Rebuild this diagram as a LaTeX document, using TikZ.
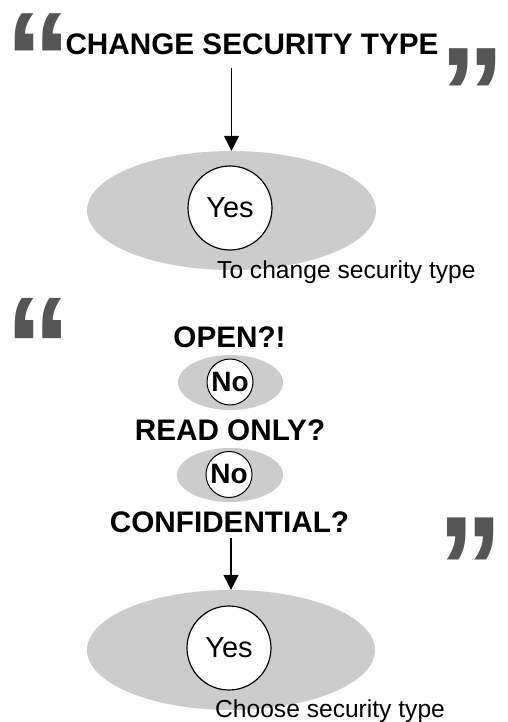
\documentclass[tikz,border=0pt]{standalone}
\usepackage{fontspec}
\setmainfont{Liberation Sans}
\usetikzlibrary{shapes.geometric,arrows.meta}
\definecolor{ellgray}{HTML}{CCCCCC}
\definecolor{qgray}{HTML}{555555}
\tikzset{
  ell/.style={ellipse, fill=ellgray, inner sep=0pt},
  ans/.style={circle, draw=black, fill=white, line width=1.2pt, inner sep=0pt},
  qmark/.style={inner sep=0pt, text=qgray, anchor=north west, font=\fontsize{132}{132}\selectfont\bfseries},
  head/.style={inner sep=0pt, font=\fontsize{29.7}{32}\selectfont\bfseries},
  ques/.style={inner sep=0pt, font=\fontsize{29.7}{32}\selectfont\bfseries},
  note/.style={inner sep=0pt, font=\fontsize{24.6}{26}\selectfont},
  arr/.style={line width=1.3pt, -{Triangle[width=15pt,length=15pt]}}
}
\begin{document}
\begin{tikzpicture}[x=1pt,y=-1pt]
\useasboundingbox (0,0) rectangle (507,722);
% quotation marks
\node[qmark] (q1) at (5.5,13) {\scalebox{1.0}[1.0]{“}};
\node[qmark] (q2) at (439.5,48) {\scalebox{1.0}[1.0]{”}};
\node[qmark] (q3) at (5.5,298) {\scalebox{1.0}[1.08]{“}};
\node[qmark] (q4) at (437.5,518) {\scalebox{1.0}[1.13]{”}};
% top part
\node[head, anchor=base] (title) at (252,55) {CHANGE SECURITY TYPE};
\node[ell, minimum width=289pt, minimum height=119pt] (e1) at (231.5,210.5) {};
\node[ans, minimum size=84pt, font=\fontsize{29}{30}\selectfont] (y1) at (230,208) {Yes};
\node[note, anchor=base west] (t1) at (217,278) {To change security type};
\draw[arr] ([yshift=-13pt]title.base -| e1.north) -- (e1.north);
% lower part
\node[ques, anchor=base] (open) at (229.5,347) {OPEN?!};
\node[ell, minimum width=105pt, minimum height=55pt] (e2) at (230.5,382.5) {};
\node[ans, minimum size=46pt, line width=1pt, font=\fontsize{28}{30}\selectfont\bfseries] (n1) at (230,382) {No};
\node[ques, anchor=base] (read) at (230,440) {READ ONLY?};
\node[ell, minimum width=106pt, minimum height=54pt] (e3) at (230,475) {};
\node[ans, minimum size=46pt, line width=1pt, font=\fontsize{28}{30}\selectfont\bfseries] (n2) at (229,474.5) {No};
\node[ques, anchor=base] (conf) at (229.5,532) {CONFIDENTIAL?};
\node[ell, minimum width=288pt, minimum height=120pt] (e4) at (231,650) {};
\node[ans, minimum size=84pt, font=\fontsize{29}{30}\selectfont] (y2) at (229,648) {Yes};
\node[note, anchor=base west] (t2) at (215,717) {Choose security type};
\draw[arr] ([yshift=-6pt]conf.base -| e4.north) -- (e4.north);
\end{tikzpicture}
\end{document}
